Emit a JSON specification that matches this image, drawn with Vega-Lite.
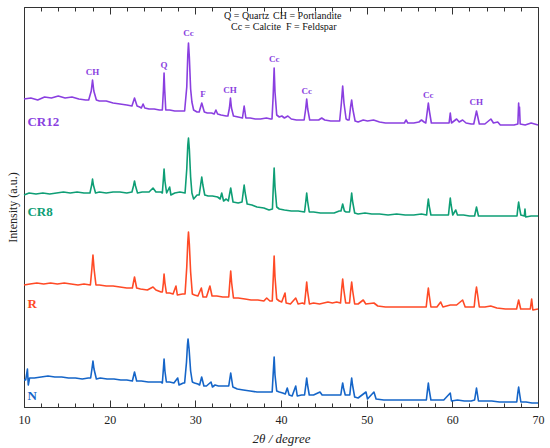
{
"$schema": "https://vega.github.io/schema/vega-lite/v6.json",
"width": 514, "height": 400,
"autosize": "none",
"padding": {"left": 24, "top": 7, "right": 12, "bottom": 41},
"config": {"view": {"stroke": "#333", "strokeWidth": 1}, "font": "Liberation Serif"},
"datasets": {
"xrd": [
{"s":"CR12","x":10,"y":308},{"s":"CR12","x":10.8,"y":309},{"s":"CR12","x":11.6,"y":307},{"s":"CR12","x":12.4,"y":310},{"s":"CR12","x":13.2,"y":309},{"s":"CR12","x":14,"y":311},{"s":"CR12","x":14.8,"y":309},{"s":"CR12","x":15.6,"y":310},{"s":"CR12","x":16.4,"y":308},{"s":"CR12","x":17.2,"y":307},{"s":"CR12","x":17.55,"y":307},{"s":"CR12","x":17.85,"y":316},{"s":"CR12","x":18,"y":327},{"s":"CR12","x":18.15,"y":316},{"s":"CR12","x":18.45,"y":307},{"s":"CR12","x":18.8,"y":306},{"s":"CR12","x":19.6,"y":306},{"s":"CR12","x":20.4,"y":304},{"s":"CR12","x":21.2,"y":303},{"s":"CR12","x":22,"y":302},{"s":"CR12","x":22.6,"y":301},{"s":"CR12","x":22.9,"y":309},{"s":"CR12","x":23.2,"y":301},{"s":"CR12","x":23.5,"y":300},{"s":"CR12","x":23.7,"y":299},{"s":"CR12","x":23.9,"y":303},{"s":"CR12","x":24.1,"y":299},{"s":"CR12","x":24.6,"y":298},{"s":"CR12","x":25.2,"y":298},{"s":"CR12","x":25.8,"y":297},{"s":"CR12","x":26.15,"y":297},{"s":"CR12","x":26.28,"y":318},{"s":"CR12","x":26.35,"y":334},{"s":"CR12","x":26.42,"y":318},{"s":"CR12","x":26.55,"y":297},{"s":"CR12","x":27,"y":297},{"s":"CR12","x":27.6,"y":296},{"s":"CR12","x":28.2,"y":296},{"s":"CR12","x":28.75,"y":296},{"s":"CR12","x":29,"y":320},{"s":"CR12","x":29.12,"y":352},{"s":"CR12","x":29.2,"y":364},{"s":"CR12","x":29.3,"y":350},{"s":"CR12","x":29.45,"y":318},{"s":"CR12","x":29.6,"y":305},{"s":"CR12","x":29.8,"y":297},{"s":"CR12","x":30.2,"y":295},{"s":"CR12","x":30.45,"y":295},{"s":"CR12","x":30.75,"y":304},{"s":"CR12","x":31.05,"y":295},{"s":"CR12","x":31.4,"y":294},{"s":"CR12","x":31.9,"y":294},{"s":"CR12","x":32.2,"y":293},{"s":"CR12","x":32.4,"y":297},{"s":"CR12","x":32.6,"y":293},{"s":"CR12","x":33,"y":292},{"s":"CR12","x":33.6,"y":291},{"s":"CR12","x":33.8,"y":291},{"s":"CR12","x":33.98,"y":299},{"s":"CR12","x":34.1,"y":309},{"s":"CR12","x":34.22,"y":299},{"s":"CR12","x":34.45,"y":291},{"s":"CR12","x":35,"y":290},{"s":"CR12","x":35.5,"y":289},{"s":"CR12","x":35.7,"y":301},{"s":"CR12","x":35.9,"y":289},{"s":"CR12","x":36.4,"y":289},{"s":"CR12","x":37,"y":288},{"s":"CR12","x":37.6,"y":288},{"s":"CR12","x":38.3,"y":289},{"s":"CR12","x":38.8,"y":288},{"s":"CR12","x":38.95,"y":288},{"s":"CR12","x":39.08,"y":310},{"s":"CR12","x":39.2,"y":339},{"s":"CR12","x":39.3,"y":315},{"s":"CR12","x":39.5,"y":292},{"s":"CR12","x":39.8,"y":290},{"s":"CR12","x":40.1,"y":291},{"s":"CR12","x":40.4,"y":289},{"s":"CR12","x":40.8,"y":291},{"s":"CR12","x":41.2,"y":288},{"s":"CR12","x":41.8,"y":287},{"s":"CR12","x":42.4,"y":287},{"s":"CR12","x":42.7,"y":287},{"s":"CR12","x":42.88,"y":298},{"s":"CR12","x":43,"y":308},{"s":"CR12","x":43.12,"y":298},{"s":"CR12","x":43.35,"y":287},{"s":"CR12","x":43.8,"y":287},{"s":"CR12","x":44.4,"y":287},{"s":"CR12","x":44.75,"y":289},{"s":"CR12","x":45.1,"y":287},{"s":"CR12","x":45.8,"y":286},{"s":"CR12","x":46.5,"y":286},{"s":"CR12","x":46.85,"y":286},{"s":"CR12","x":47.05,"y":304},{"s":"CR12","x":47.2,"y":321},{"s":"CR12","x":47.35,"y":304},{"s":"CR12","x":47.6,"y":288},{"s":"CR12","x":47.8,"y":287},{"s":"CR12","x":47.95,"y":287},{"s":"CR12","x":48.12,"y":300},{"s":"CR12","x":48.25,"y":307},{"s":"CR12","x":48.38,"y":298},{"s":"CR12","x":48.65,"y":286},{"s":"CR12","x":49,"y":285},{"s":"CR12","x":49.6,"y":287},{"s":"CR12","x":50.1,"y":286},{"s":"CR12","x":50.8,"y":287},{"s":"CR12","x":51.5,"y":285},{"s":"CR12","x":52.2,"y":284},{"s":"CR12","x":53,"y":284},{"s":"CR12","x":53.8,"y":284},{"s":"CR12","x":54.4,"y":284},{"s":"CR12","x":54.6,"y":287},{"s":"CR12","x":54.8,"y":284},{"s":"CR12","x":55.5,"y":284},{"s":"CR12","x":56.1,"y":285},{"s":"CR12","x":56.4,"y":287},{"s":"CR12","x":56.7,"y":285},{"s":"CR12","x":56.9,"y":284},{"s":"CR12","x":57.08,"y":296},{"s":"CR12","x":57.2,"y":304},{"s":"CR12","x":57.32,"y":296},{"s":"CR12","x":57.55,"y":284},{"s":"CR12","x":58.2,"y":284},{"s":"CR12","x":59,"y":284},{"s":"CR12","x":59.62,"y":284},{"s":"CR12","x":59.76,"y":294},{"s":"CR12","x":59.9,"y":284},{"s":"CR12","x":60.5,"y":288},{"s":"CR12","x":60.8,"y":285},{"s":"CR12","x":61.2,"y":287},{"s":"CR12","x":61.6,"y":284},{"s":"CR12","x":62.2,"y":283},{"s":"CR12","x":62.5,"y":283},{"s":"CR12","x":62.7,"y":291},{"s":"CR12","x":62.82,"y":296},{"s":"CR12","x":62.95,"y":291},{"s":"CR12","x":63.15,"y":283},{"s":"CR12","x":63.8,"y":283},{"s":"CR12","x":64.5,"y":288},{"s":"CR12","x":64.8,"y":284},{"s":"CR12","x":65.3,"y":285},{"s":"CR12","x":65.6,"y":282},{"s":"CR12","x":66.4,"y":282},{"s":"CR12","x":67.2,"y":282},{"s":"CR12","x":67.65,"y":283},{"s":"CR12","x":67.74,"y":304},{"s":"CR12","x":67.8,"y":292},{"s":"CR12","x":67.84,"y":300},{"s":"CR12","x":67.92,"y":283},{"s":"CR12","x":68.5,"y":282},{"s":"CR12","x":69.2,"y":284},{"s":"CR12","x":70,"y":282},

{"s":"CR8","x":10,"y":212},{"s":"CR8","x":10.6,"y":214},{"s":"CR8","x":11.4,"y":213},{"s":"CR8","x":12.2,"y":214},{"s":"CR8","x":13,"y":213},{"s":"CR8","x":13.8,"y":214},{"s":"CR8","x":14.6,"y":215},{"s":"CR8","x":15.4,"y":214},{"s":"CR8","x":16.2,"y":215},{"s":"CR8","x":17,"y":214},{"s":"CR8","x":17.7,"y":214},{"s":"CR8","x":17.9,"y":222},{"s":"CR8","x":18,"y":228},{"s":"CR8","x":18.1,"y":222},{"s":"CR8","x":18.35,"y":214},{"s":"CR8","x":18.8,"y":215},{"s":"CR8","x":19.6,"y":214},{"s":"CR8","x":20.4,"y":215},{"s":"CR8","x":21.2,"y":215},{"s":"CR8","x":22,"y":214},{"s":"CR8","x":22.6,"y":215},{"s":"CR8","x":22.78,"y":221},{"s":"CR8","x":22.9,"y":226},{"s":"CR8","x":23.02,"y":221},{"s":"CR8","x":23.25,"y":214},{"s":"CR8","x":23.8,"y":215},{"s":"CR8","x":24.6,"y":215},{"s":"CR8","x":25.06,"y":219},{"s":"CR8","x":25.4,"y":215},{"s":"CR8","x":26,"y":215},{"s":"CR8","x":26.15,"y":214},{"s":"CR8","x":26.27,"y":228},{"s":"CR8","x":26.35,"y":238},{"s":"CR8","x":26.45,"y":226},{"s":"CR8","x":26.65,"y":214},{"s":"CR8","x":27,"y":220},{"s":"CR8","x":27.15,"y":212},{"s":"CR8","x":27.6,"y":214},{"s":"CR8","x":28.2,"y":215},{"s":"CR8","x":28.8,"y":214},{"s":"CR8","x":29,"y":238},{"s":"CR8","x":29.12,"y":262},{"s":"CR8","x":29.2,"y":269},{"s":"CR8","x":29.3,"y":258},{"s":"CR8","x":29.45,"y":230},{"s":"CR8","x":29.6,"y":214},{"s":"CR8","x":29.8,"y":208},{"s":"CR8","x":30.2,"y":212},{"s":"CR8","x":30.45,"y":212},{"s":"CR8","x":30.62,"y":222},{"s":"CR8","x":30.75,"y":230},{"s":"CR8","x":30.88,"y":222},{"s":"CR8","x":31.1,"y":212},{"s":"CR8","x":31.5,"y":211},{"s":"CR8","x":32,"y":211},{"s":"CR8","x":32.6,"y":210},{"s":"CR8","x":32.9,"y":208},{"s":"CR8","x":33.08,"y":214},{"s":"CR8","x":33.3,"y":206},{"s":"CR8","x":33.6,"y":208},{"s":"CR8","x":33.85,"y":206},{"s":"CR8","x":34.13,"y":219},{"s":"CR8","x":34.4,"y":205},{"s":"CR8","x":35,"y":204},{"s":"CR8","x":35.45,"y":205},{"s":"CR8","x":35.58,"y":214},{"s":"CR8","x":35.7,"y":222},{"s":"CR8","x":35.82,"y":214},{"s":"CR8","x":36.05,"y":203},{"s":"CR8","x":36.6,"y":202},{"s":"CR8","x":37.2,"y":200},{"s":"CR8","x":38,"y":199},{"s":"CR8","x":38.6,"y":197},{"s":"CR8","x":39,"y":198},{"s":"CR8","x":39.1,"y":220},{"s":"CR8","x":39.2,"y":239},{"s":"CR8","x":39.3,"y":220},{"s":"CR8","x":39.5,"y":200},{"s":"CR8","x":39.8,"y":198},{"s":"CR8","x":40.4,"y":197},{"s":"CR8","x":41.2,"y":196},{"s":"CR8","x":42,"y":196},{"s":"CR8","x":42.75,"y":195},{"s":"CR8","x":42.9,"y":206},{"s":"CR8","x":43,"y":214},{"s":"CR8","x":43.1,"y":206},{"s":"CR8","x":43.3,"y":195},{"s":"CR8","x":43.8,"y":195},{"s":"CR8","x":44.6,"y":194},{"s":"CR8","x":45.4,"y":194},{"s":"CR8","x":46.2,"y":194},{"s":"CR8","x":46.8,"y":196},{"s":"CR8","x":47,"y":196},{"s":"CR8","x":47.2,"y":203},{"s":"CR8","x":47.4,"y":196},{"s":"CR8","x":47.6,"y":195},{"s":"CR8","x":48,"y":195},{"s":"CR8","x":48.15,"y":206},{"s":"CR8","x":48.25,"y":214},{"s":"CR8","x":48.35,"y":206},{"s":"CR8","x":48.6,"y":194},{"s":"CR8","x":49,"y":193},{"s":"CR8","x":49.8,"y":194},{"s":"CR8","x":50.6,"y":193},{"s":"CR8","x":51.5,"y":193},{"s":"CR8","x":52.5,"y":192},{"s":"CR8","x":53.5,"y":193},{"s":"CR8","x":54.5,"y":192},{"s":"CR8","x":55.5,"y":192},{"s":"CR8","x":56.4,"y":193},{"s":"CR8","x":57,"y":192},{"s":"CR8","x":57.1,"y":201},{"s":"CR8","x":57.2,"y":208},{"s":"CR8","x":57.3,"y":201},{"s":"CR8","x":57.5,"y":192},{"s":"CR8","x":58,"y":192},{"s":"CR8","x":58.8,"y":192},{"s":"CR8","x":59.55,"y":192},{"s":"CR8","x":59.67,"y":202},{"s":"CR8","x":59.76,"y":209},{"s":"CR8","x":59.86,"y":202},{"s":"CR8","x":60.05,"y":192},{"s":"CR8","x":60.4,"y":197},{"s":"CR8","x":60.6,"y":192},{"s":"CR8","x":61.3,"y":192},{"s":"CR8","x":62,"y":191},{"s":"CR8","x":62.6,"y":191},{"s":"CR8","x":62.82,"y":200},{"s":"CR8","x":63.05,"y":191},{"s":"CR8","x":63.8,"y":191},{"s":"CR8","x":64.6,"y":191},{"s":"CR8","x":65.5,"y":191},{"s":"CR8","x":66.4,"y":191},{"s":"CR8","x":67.3,"y":191},{"s":"CR8","x":67.55,"y":191},{"s":"CR8","x":67.66,"y":200},{"s":"CR8","x":67.74,"y":205},{"s":"CR8","x":67.82,"y":200},{"s":"CR8","x":68,"y":192},{"s":"CR8","x":68.4,"y":191},{"s":"CR8","x":68.48,"y":198},{"s":"CR8","x":68.56,"y":190},{"s":"CR8","x":69.2,"y":191},{"s":"CR8","x":70,"y":191},

{"s":"R","x":10,"y":122},{"s":"R","x":10.7,"y":123},{"s":"R","x":11.5,"y":124},{"s":"R","x":12.3,"y":123},{"s":"R","x":13.1,"y":124},{"s":"R","x":13.9,"y":123},{"s":"R","x":14.7,"y":124},{"s":"R","x":15.5,"y":123},{"s":"R","x":16.3,"y":122},{"s":"R","x":17,"y":123},{"s":"R","x":17.75,"y":122},{"s":"R","x":17.92,"y":138},{"s":"R","x":18.05,"y":152},{"s":"R","x":18.18,"y":138},{"s":"R","x":18.4,"y":122},{"s":"R","x":18.8,"y":122},{"s":"R","x":19.6,"y":121},{"s":"R","x":20.4,"y":121},{"s":"R","x":21.2,"y":120},{"s":"R","x":22,"y":119},{"s":"R","x":22.65,"y":119},{"s":"R","x":22.9,"y":130},{"s":"R","x":23.15,"y":119},{"s":"R","x":23.6,"y":118},{"s":"R","x":24.4,"y":117},{"s":"R","x":25.06,"y":120},{"s":"R","x":25.4,"y":117},{"s":"R","x":26,"y":115},{"s":"R","x":26.15,"y":115},{"s":"R","x":26.27,"y":124},{"s":"R","x":26.35,"y":133},{"s":"R","x":26.45,"y":124},{"s":"R","x":26.62,"y":114},{"s":"R","x":27,"y":114},{"s":"R","x":27.4,"y":113},{"s":"R","x":27.74,"y":121},{"s":"R","x":27.9,"y":112},{"s":"R","x":28.5,"y":113},{"s":"R","x":28.8,"y":113},{"s":"R","x":29,"y":140},{"s":"R","x":29.12,"y":165},{"s":"R","x":29.2,"y":175},{"s":"R","x":29.3,"y":163},{"s":"R","x":29.45,"y":135},{"s":"R","x":29.65,"y":113},{"s":"R","x":29.9,"y":112},{"s":"R","x":30.3,"y":111},{"s":"R","x":30.7,"y":119},{"s":"R","x":30.9,"y":110},{"s":"R","x":31.3,"y":110},{"s":"R","x":31.7,"y":121},{"s":"R","x":31.95,"y":111},{"s":"R","x":32.5,"y":111},{"s":"R","x":33.2,"y":110},{"s":"R","x":33.9,"y":110},{"s":"R","x":34.02,"y":124},{"s":"R","x":34.13,"y":136},{"s":"R","x":34.24,"y":124},{"s":"R","x":34.45,"y":109},{"s":"R","x":35,"y":109},{"s":"R","x":35.8,"y":108},{"s":"R","x":36.5,"y":107},{"s":"R","x":37.3,"y":107},{"s":"R","x":38,"y":106},{"s":"R","x":38.33,"y":109},{"s":"R","x":38.7,"y":106},{"s":"R","x":38.98,"y":106},{"s":"R","x":39.1,"y":130},{"s":"R","x":39.2,"y":151},{"s":"R","x":39.3,"y":130},{"s":"R","x":39.5,"y":108},{"s":"R","x":39.8,"y":106},{"s":"R","x":40.08,"y":105},{"s":"R","x":40.47,"y":114},{"s":"R","x":40.6,"y":104},{"s":"R","x":41.1,"y":103},{"s":"R","x":41.72,"y":109},{"s":"R","x":42,"y":103},{"s":"R","x":42.5,"y":104},{"s":"R","x":42.75,"y":103},{"s":"R","x":42.9,"y":116},{"s":"R","x":43,"y":125},{"s":"R","x":43.1,"y":116},{"s":"R","x":43.32,"y":103},{"s":"R","x":43.8,"y":104},{"s":"R","x":44.5,"y":103},{"s":"R","x":45.48,"y":105},{"s":"R","x":46,"y":104},{"s":"R","x":46.5,"y":105},{"s":"R","x":46.95,"y":104},{"s":"R","x":47.08,"y":118},{"s":"R","x":47.2,"y":128},{"s":"R","x":47.32,"y":118},{"s":"R","x":47.55,"y":104},{"s":"R","x":47.75,"y":104},{"s":"R","x":48,"y":104},{"s":"R","x":48.13,"y":116},{"s":"R","x":48.25,"y":125},{"s":"R","x":48.37,"y":116},{"s":"R","x":48.6,"y":103},{"s":"R","x":49,"y":103},{"s":"R","x":49.6,"y":107},{"s":"R","x":49.9,"y":103},{"s":"R","x":50.85,"y":104},{"s":"R","x":51.3,"y":101},{"s":"R","x":52.2,"y":100},{"s":"R","x":53,"y":100},{"s":"R","x":54,"y":100},{"s":"R","x":55,"y":100},{"s":"R","x":56,"y":100},{"s":"R","x":56.95,"y":100},{"s":"R","x":57.1,"y":112},{"s":"R","x":57.2,"y":119},{"s":"R","x":57.3,"y":112},{"s":"R","x":57.5,"y":100},{"s":"R","x":58.2,"y":100},{"s":"R","x":58.64,"y":105},{"s":"R","x":58.9,"y":100},{"s":"R","x":59.76,"y":102},{"s":"R","x":60.5,"y":102},{"s":"R","x":61.2,"y":107},{"s":"R","x":61.5,"y":100},{"s":"R","x":62.3,"y":100},{"s":"R","x":62.55,"y":100},{"s":"R","x":62.7,"y":113},{"s":"R","x":62.82,"y":120},{"s":"R","x":62.94,"y":113},{"s":"R","x":63.15,"y":100},{"s":"R","x":63.8,"y":100},{"s":"R","x":64.48,"y":101},{"s":"R","x":65.2,"y":99},{"s":"R","x":66.2,"y":98},{"s":"R","x":67.2,"y":98},{"s":"R","x":67.5,"y":98},{"s":"R","x":67.74,"y":107},{"s":"R","x":67.98,"y":98},{"s":"R","x":68.6,"y":98},{"s":"R","x":69.1,"y":98},{"s":"R","x":69.26,"y":108},{"s":"R","x":69.4,"y":97},{"s":"R","x":70,"y":98},

{"s":"N","x":10,"y":27},{"s":"N","x":10.2,"y":27},{"s":"N","x":10.4,"y":38},{"s":"N","x":10.5,"y":22},{"s":"N","x":10.65,"y":29},{"s":"N","x":11.2,"y":29},{"s":"N","x":12,"y":30},{"s":"N","x":12.8,"y":31},{"s":"N","x":13.6,"y":30},{"s":"N","x":14.4,"y":30},{"s":"N","x":15.2,"y":29},{"s":"N","x":16,"y":29},{"s":"N","x":16.8,"y":28},{"s":"N","x":17.5,"y":29},{"s":"N","x":17.78,"y":29},{"s":"N","x":17.93,"y":38},{"s":"N","x":18.05,"y":46},{"s":"N","x":18.17,"y":38},{"s":"N","x":18.45,"y":28},{"s":"N","x":18.9,"y":29},{"s":"N","x":19.7,"y":28},{"s":"N","x":20.5,"y":28},{"s":"N","x":21.3,"y":27},{"s":"N","x":22,"y":27},{"s":"N","x":22.65,"y":26},{"s":"N","x":22.9,"y":35},{"s":"N","x":23.15,"y":26},{"s":"N","x":23.7,"y":26},{"s":"N","x":24.5,"y":25},{"s":"N","x":25.3,"y":25},{"s":"N","x":26,"y":25},{"s":"N","x":26.15,"y":24},{"s":"N","x":26.27,"y":38},{"s":"N","x":26.35,"y":48},{"s":"N","x":26.45,"y":36},{"s":"N","x":26.62,"y":25},{"s":"N","x":27,"y":25},{"s":"N","x":27.5,"y":24},{"s":"N","x":27.94,"y":29},{"s":"N","x":28.1,"y":22},{"s":"N","x":28.6,"y":24},{"s":"N","x":28.75,"y":24},{"s":"N","x":28.97,"y":45},{"s":"N","x":29.08,"y":62},{"s":"N","x":29.15,"y":68},{"s":"N","x":29.27,"y":58},{"s":"N","x":29.45,"y":36},{"s":"N","x":29.65,"y":25},{"s":"N","x":29.9,"y":24},{"s":"N","x":30.3,"y":23},{"s":"N","x":30.5,"y":22},{"s":"N","x":30.74,"y":30},{"s":"N","x":31,"y":21},{"s":"N","x":31.3,"y":21},{"s":"N","x":31.83,"y":25},{"s":"N","x":32,"y":20},{"s":"N","x":32.3,"y":22},{"s":"N","x":32.7,"y":21},{"s":"N","x":33.3,"y":21},{"s":"N","x":33.9,"y":21},{"s":"N","x":34.13,"y":34},{"s":"N","x":34.38,"y":20},{"s":"N","x":34.9,"y":18},{"s":"N","x":35.6,"y":17},{"s":"N","x":36.4,"y":16},{"s":"N","x":37.2,"y":15},{"s":"N","x":38,"y":15},{"s":"N","x":38.6,"y":15},{"s":"N","x":38.97,"y":15},{"s":"N","x":39.08,"y":32},{"s":"N","x":39.2,"y":50},{"s":"N","x":39.3,"y":32},{"s":"N","x":39.5,"y":16},{"s":"N","x":39.8,"y":15},{"s":"N","x":40.2,"y":14},{"s":"N","x":40.5,"y":13},{"s":"N","x":40.73,"y":19},{"s":"N","x":40.95,"y":12},{"s":"N","x":41.3,"y":11},{"s":"N","x":41.72,"y":21},{"s":"N","x":41.9,"y":11},{"s":"N","x":42.4,"y":12},{"s":"N","x":42.75,"y":12},{"s":"N","x":42.9,"y":22},{"s":"N","x":43,"y":29},{"s":"N","x":43.1,"y":22},{"s":"N","x":43.3,"y":12},{"s":"N","x":43.8,"y":12},{"s":"N","x":44.55,"y":15},{"s":"N","x":44.8,"y":12},{"s":"N","x":45.5,"y":12},{"s":"N","x":46.3,"y":12},{"s":"N","x":46.98,"y":12},{"s":"N","x":47.1,"y":19},{"s":"N","x":47.2,"y":24},{"s":"N","x":47.3,"y":19},{"s":"N","x":47.5,"y":12},{"s":"N","x":47.75,"y":12},{"s":"N","x":48.03,"y":12},{"s":"N","x":48.15,"y":22},{"s":"N","x":48.25,"y":29},{"s":"N","x":48.35,"y":22},{"s":"N","x":48.6,"y":10},{"s":"N","x":49,"y":9},{"s":"N","x":49.92,"y":15},{"s":"N","x":50.1,"y":8},{"s":"N","x":50.85,"y":15},{"s":"N","x":51.1,"y":8},{"s":"N","x":52,"y":7},{"s":"N","x":53,"y":7},{"s":"N","x":54,"y":7},{"s":"N","x":55,"y":7},{"s":"N","x":56,"y":7},{"s":"N","x":56.97,"y":7},{"s":"N","x":57.1,"y":17},{"s":"N","x":57.2,"y":24},{"s":"N","x":57.3,"y":17},{"s":"N","x":57.5,"y":7},{"s":"N","x":58.2,"y":7},{"s":"N","x":59,"y":7},{"s":"N","x":59.76,"y":14},{"s":"N","x":59.9,"y":6},{"s":"N","x":60.6,"y":7},{"s":"N","x":61.4,"y":6},{"s":"N","x":62.2,"y":6},{"s":"N","x":62.6,"y":7},{"s":"N","x":62.82,"y":19},{"s":"N","x":63.05,"y":6},{"s":"N","x":63.8,"y":6},{"s":"N","x":64.6,"y":6},{"s":"N","x":65.5,"y":5},{"s":"N","x":66.5,"y":5},{"s":"N","x":67.3,"y":5},{"s":"N","x":67.52,"y":5},{"s":"N","x":67.64,"y":14},{"s":"N","x":67.74,"y":20},{"s":"N","x":67.84,"y":14},{"s":"N","x":68,"y":5},{"s":"N","x":68.6,"y":5},{"s":"N","x":69.3,"y":4},{"s":"N","x":70,"y":4}
],
"peaks": [
{"x":18.0,"y":335,"t":"CH"},{"x":26.35,"y":342,"t":"Q"},{"x":29.2,"y":374,"t":"Cc"},{"x":30.9,"y":313,"t":"F"},{"x":34.05,"y":317,"t":"CH"},{"x":39.2,"y":348,"t":"Cc"},{"x":43.0,"y":316,"t":"Cc"},{"x":57.2,"y":312,"t":"Cc"},{"x":62.8,"y":305,"t":"CH"}
],
"names": [
{"s":"CR12","x":10.4,"y":285},{"s":"CR8","x":10.4,"y":195},{"s":"R","x":10.4,"y":103},{"s":"N","x":10.4,"y":11}
],
"key": [
{"x":33.35,"y":391,"t":"Q = Quartz"},{"x":39.07,"y":391,"t":"CH = Portlandite"},{"x":34.16,"y":380,"t":"Cc = Calcite"},{"x":40.58,"y":380,"t":"F = Feldspar"}
]
},
"layer": [
{
"data": {"name": "xrd"},
"mark": {"type": "line", "strokeWidth": 1.6, "interpolate": "linear", "strokeJoin": "round"},
"encoding": {
"x": {"field": "x", "type": "quantitative", "scale": {"domain": [10, 70], "nice": false, "zero": false},
  "axis": {"orient": "bottom", "values": [10,12,14,16,18,20,22,24,26,28,30,32,34,36,38,40,42,44,46,48,50,52,54,56,58,60,62,64,66,68,70],
    "labelExpr": "datum.value % 10 === 0 ? datum.label : ''", "grid": false,
    "tickSize": {"condition": {"test": "datum.value % 10 === 0", "value": -7}, "value": -4},
    "tickColor": "#333", "domainColor": "#333", "labelFont": "Liberation Serif", "labelFontSize": 12, "labelColor": "#222",
    "labelPadding": 14, "labelFlush": false, "labelOverlap": false,
    "title": "2θ / degree", "titleFont": "Liberation Serif", "titleFontStyle": "italic", "titleFontWeight": "normal", "titleFontSize": 13, "titleColor": "#222", "titlePadding": 4}},
"y": {"field": "y", "type": "quantitative", "scale": {"domain": [0, 400], "nice": false},
  "axis": {"ticks": false, "labels": false, "grid": false, "domainColor": "#333", "title": "Intensity (a.u.)", "titleFont": "Liberation Serif", "titleFontWeight": "normal", "titleFontSize": 12, "titleColor": "#222", "titlePadding": 5}},
"color": {"field": "s", "type": "nominal", "scale": {"domain": ["CR12","CR8","R","N"], "range": ["#8A3FE0","#0E9E75","#FF4A26","#1565C8"]}, "legend": null}
}
},
{
"data": {"name": "peaks"},
"mark": {"type": "text", "font": "Liberation Serif", "fontSize": 9, "fontWeight": "bold", "color": "#8A3FE0"},
"encoding": {
"x": {"field": "x", "type": "quantitative", "scale": {"domain": [10, 70], "nice": false, "zero": false},
  "axis": {"orient": "top", "values": [10,12,14,16,18,20,22,24,26,28,30,32,34,36,38,40,42,44,46,48,50,52,54,56,58,60,62,64,66,68,70],
    "labels": false, "grid": false, "domain": false, "title": null,
    "tickSize": {"condition": {"test": "datum.value % 10 === 0", "value": -7}, "value": -4}, "tickColor": "#333"}},
"y": {"field": "y", "type": "quantitative"},
"text": {"field": "t"}
}
},
{
"data": {"name": "names"},
"mark": {"type": "text", "font": "Liberation Serif", "fontSize": 13, "fontWeight": "bold", "align": "left"},
"encoding": {
"x": {"field": "x", "type": "quantitative", "axis": null},
"y": {"field": "y", "type": "quantitative"},
"text": {"field": "s"},
"color": {"field": "s", "type": "nominal", "legend": null}
}
},
{
"data": {"name": "key"},
"mark": {"type": "text", "font": "Liberation Serif", "fontSize": 10, "align": "left", "color": "#111"},
"encoding": {
"x": {"field": "x", "type": "quantitative", "axis": null},
"y": {"field": "y", "type": "quantitative"},
"text": {"field": "t"}
}
}
],
"resolve": {"axis": {"x": "independent"}}
}
